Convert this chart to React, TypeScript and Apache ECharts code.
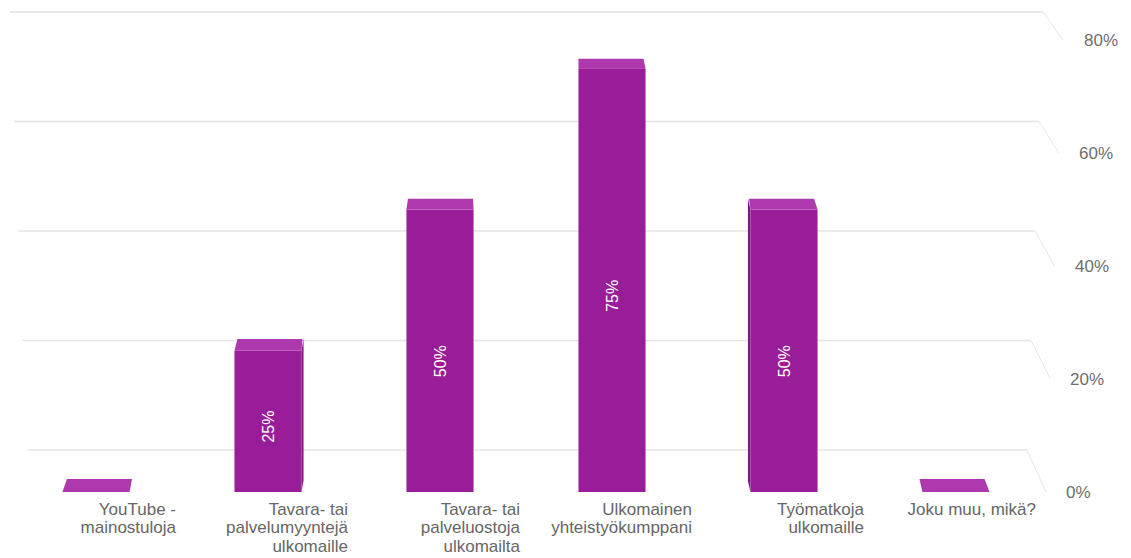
import React, { useEffect, useRef } from "react";
import * as echarts from "echarts";

const categories = [
  "YouTube -\nmainostuloja",
  "Tavara- tai\npalvelumyyntejä\nulkomaille",
  "Tavara- tai\npalveluostoja\nulkomailta",
  "Ulkomainen\nyhteistyökumppani",
  "Työmatkoja\nulkomaille",
  "Joku muu, mikä?",
];
const values = [0, 25, 50, 75, 50, 0];
const tickValues = [0, 20, 40, 60, 80];
const labelShift: Record<number, number> = { 0: 0, 20: 4, 40: 9, 60: 13, 80: 18 };

const FONT = "Arial, 'Liberation Sans', sans-serif";

export default function App() {
  const ref = useRef<HTMLDivElement>(null);
  useEffect(() => {
    if (!ref.current) return;
    const chart = echarts.init(ref.current, undefined, { renderer: "svg" });
    const rich: Record<string, any> = {};
    tickValues.forEach((t) => {
      rich["t" + t] = {
        padding: [0, 0, 0, labelShift[t]],
        fontSize: 17,
        fontFamily: FONT,
        color: "#6e6e6e",
      };
    });
    chart.setOption({
      animation: false,
      backgroundColor: "#ffffff",
      grid: { left: 10, right: 89, top: 40, bottom: 66, containLabel: false },
      xAxis: {
        type: "category",
        data: categories,
        axisLine: { show: false },
        axisTick: { show: false },
        splitLine: { show: false },
        axisLabel: {
          interval: 0,
          margin: 8,
          formatter: (val: string) =>
            val
              .split("\n")
              .map((l) => "{a|" + l + "}")
              .join("\n"),
          rich: {
            a: {
              width: 160,
              align: "right",
              fontSize: 17,
              lineHeight: 18.5,
              fontFamily: FONT,
              color: "#666666",
            },
          },
        },
      },
      yAxis: {
        type: "value",
        position: "right",
        min: 0,
        max: 80,
        interval: 20,
        axisLine: { show: false },
        axisTick: { show: false },
        splitLine: { show: false },
        axisLabel: {
          margin: 24,
          align: "left",
          formatter: (v: number) => "{t" + v + "|" + v + "%}",
          rich,
        },
      },
      series: [
        {
          type: "custom",
          z: 1,
          data: tickValues.map((t) => [0, t]),
          renderItem: (params: any, api: any) => {
            const v = api.value(1);
            const p = api.coord([0, v]);
            const zero = api.coord([0, 0]);
            const cs = params.coordSys;
            const dy = zero[1] - p[1];
            const backY = zero[1] - 42 - dy * 0.969;
            const leftX = cs.x + 17 - dy * 0.0376;
            const backRight = cs.x + cs.width - 15 + dy * 0.0354;
            const frontX = cs.x + cs.width + 4 + dy * 0.0376;
            return {
              type: "group",
              children: [
                {
                  type: "line",
                  shape: { x1: leftX, y1: backY, x2: backRight, y2: backY },
                  style: { stroke: "#e4e4e4", lineWidth: 1.5 },
                },
                {
                  type: "line",
                  shape: { x1: backRight, y1: backY, x2: frontX, y2: p[1] },
                  style: { stroke: "#e6e6e6", lineWidth: 1 },
                },
              ],
            };
          },
        },
        {
          type: "custom",
          z: 2,
          data: values.map((v, i) => [i, v]),
          renderItem: (params: any, api: any) => {
            const i = api.value(0);
            const v = api.value(1);
            const top = api.coord([i, v]);
            const base = api.coord([i, 0]);
            const cs = params.coordSys;
            const bw = api.size([1, 0])[0];
            const w = bw * 0.39;
            const cx = top[0];
            const h = base[1] - top[1];
            const vx = cs.x + cs.width * 0.472;
            const shift = (vx - cx) * 0.0087;
            const d = 13 - h * 0.008;
            const xl = cx - w / 2;
            const xr = cx + w / 2;
            const ty = top[1];
            const by = base[1];
            const children: any[] = [];
            if (h > 0 && Math.abs(shift) > 1) {
              const sx = shift > 0 ? xr : xl;
              children.push({
                type: "polygon",
                shape: {
                  points: [
                    [sx, ty],
                    [sx + shift, ty - d],
                    [sx + shift, by - d],
                    [sx, by],
                  ],
                },
                style: { fill: "#82137f" },
              });
            }
            if (h > 0) {
              children.push({
                type: "rect",
                shape: { x: xl, y: ty, width: w, height: h },
                style: { fill: "#991c98" },
              });
            }
            children.push({
              type: "polygon",
              shape: {
                points: [
                  [xl, ty],
                  [xr, ty],
                  [xr + shift - w * 0.015, ty - d],
                  [xl + shift + w * 0.015, ty - d],
                ],
              },
              style: { fill: "#ae38ae" },
            });
            if (v > 0) {
              children.push({
                type: "text",
                x: cx,
                y: (ty + by) / 2 + h * 0.037,
                rotation: Math.PI / 2,
                style: {
                  text: v + "%",
                  fill: "#ffffff",
                  fontSize: 16,
                  fontFamily: FONT,
                  align: "center",
                  verticalAlign: "middle",
                },
              });
            }
            return { type: "group", children };
          },
        },
      ],
    });
    return () => chart.dispose();
  }, []);
  return (
    <div
      ref={ref}
      style={{ position: "absolute", left: 0, top: 0, width: 1131, height: 558 }}
    />
  );
}
